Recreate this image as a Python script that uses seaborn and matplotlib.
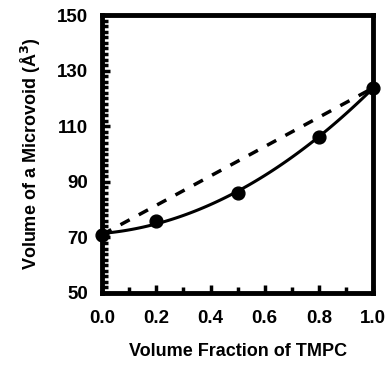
import numpy as np
import pandas as pd
import seaborn as sns
import matplotlib.pyplot as plt
from matplotlib.ticker import MultipleLocator, FixedLocator

# data
frac = [0.0, 0.2, 0.5, 0.8, 1.0]
volume = [71.0, 75.8, 86.0, 106.3, 123.8]
# additive (linear) line between pure components
line_x = [0.0, 1.0]
line_y = [71.0, 123.8]
yticks = [50, 70, 90, 110, 130, 150]

df = pd.DataFrame({'frac': frac, 'volume': volume})

sns.set_style('ticks')
plt.rcParams['font.family'] = ['Liberation Sans', 'DejaVu Sans']
plt.rcParams['font.weight'] = 'bold'
plt.rcParams['text.color'] = 'black'
plt.rcParams['axes.labelcolor'] = 'black'
plt.rcParams['xtick.color'] = 'black'
plt.rcParams['ytick.color'] = 'black'
plt.rcParams['axes.edgecolor'] = 'black'

fig, ax = plt.subplots(figsize=(3.87, 3.69), dpi=100)

sns.lineplot(x=line_x, y=line_y, ax=ax, color='black', lw=2.5,
             linestyle=(0, (3, 3)))
sns.regplot(data=df, x='frac', y='volume', order=2, ci=None, ax=ax,
            color='black', scatter_kws={'s': 85, 'zorder': 5, 'alpha': 1,
                                        'clip_on': False},
            line_kws={'lw': 2.2})

ax.set_xlim(0, 1)
ax.set_ylim(50, 150)
ax.xaxis.set_major_locator(MultipleLocator(0.2))
ax.xaxis.set_minor_locator(MultipleLocator(0.1))
ax.yaxis.set_major_locator(FixedLocator(yticks))
ax.yaxis.set_minor_locator(MultipleLocator(2))
ax.xaxis.set_major_formatter('{x:.1f}')

ax.tick_params(which='both', direction='in', width=2.5, labelsize=13.5)
ax.tick_params(axis='x', pad=12)
ax.tick_params(axis='y', pad=10)
ax.tick_params(which='major', length=6)
ax.tick_params(which='minor', length=4)
for s in ax.spines.values():
    s.set_linewidth(3.5)
    s.set_visible(True)

ax.set_xlabel('Volume Fraction of TMPC', fontsize=13, fontweight='bold', labelpad=12)
ax.set_ylabel('Volume of a Microvoid (Å$^3$)', fontsize=13, fontweight='bold', labelpad=10)

fig.subplots_adjust(left=0.264, right=0.964, top=0.959, bottom=0.206)
fig.savefig('out.png', dpi=100)
